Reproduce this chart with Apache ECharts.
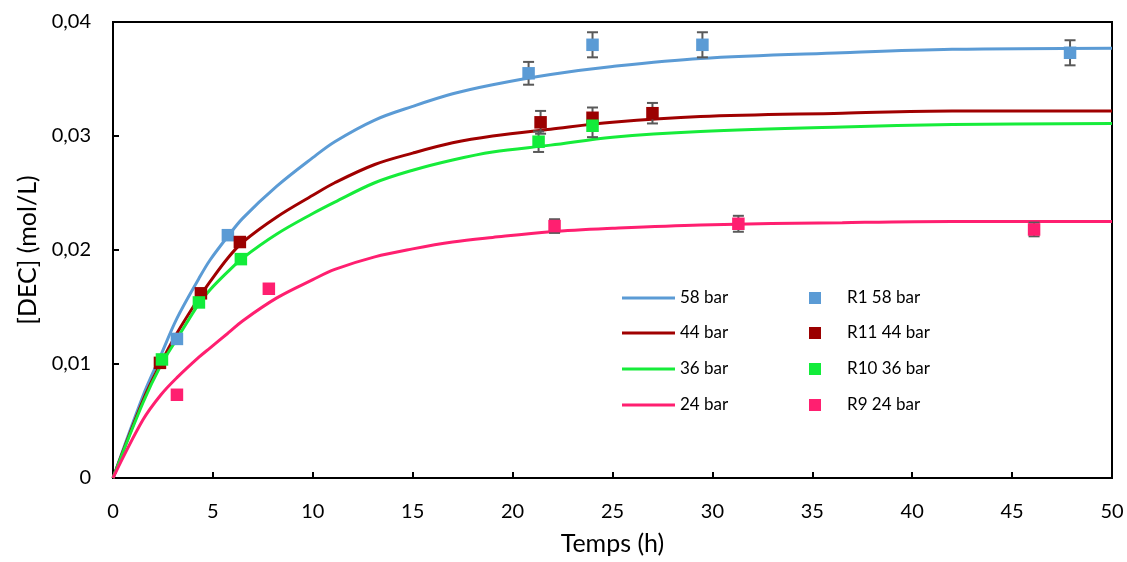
<!DOCTYPE html>
<html>
<head>
<meta charset="utf-8">
<script src="https://cdn.jsdelivr.net/npm/echarts@6/dist/echarts.min.js"></script>
<style>
html,body{margin:0;padding:0;background:#fff;}
#chart{width:1127px;height:562px;}
</style>
</head>
<body>
<div id="chart"></div>
<script>
// Model curve sample times (h)
const tModel = [0, 1.5, 2.4, 3.2, 4.3, 4.85, 5.75, 6.5, 8.2, 10, 11.1, 13.1, 15, 17, 19, 21.9, 25, 29.4, 36.5, 42, 50];
const model58 = [0, 0.0072, 0.0108, 0.0140, 0.0175, 0.0191, 0.0212, 0.0228, 0.0256, 0.0281, 0.0295, 0.0314, 0.0326, 0.0337, 0.0345, 0.0354, 0.0361, 0.0368, 0.0373, 0.0376, 0.0377];
const model44 = [0, 0.0068, 0.0101, 0.0127, 0.0158, 0.0172, 0.0193, 0.0207, 0.0229, 0.0248, 0.0259, 0.0275, 0.0285, 0.0294, 0.0300, 0.0306, 0.0312, 0.0317, 0.0320, 0.0322, 0.0322];
const model36 = [0, 0.0066, 0.0099, 0.0122, 0.0153, 0.0165, 0.0181, 0.0193, 0.0214, 0.0232, 0.0242, 0.0259, 0.0270, 0.0279, 0.0286, 0.0292, 0.0299, 0.0304, 0.0308, 0.0310, 0.0311];
const model24 = [0, 0.0051, 0.0073, 0.0088, 0.0106, 0.0114, 0.0127, 0.0138, 0.0158, 0.0174, 0.0183, 0.0194, 0.0201, 0.0207, 0.0211, 0.0216, 0.0219, 0.0222, 0.0224, 0.0225, 0.0225];

// Experimental points: time, concentration, error (±)
const r1T   = [3.2, 5.75, 20.8, 24.0, 29.5, 47.9];
const r1C   = [0.0122, 0.0213, 0.0355, 0.0380, 0.0380, 0.0373];
const r1E   = [0, 0.0003, 0.0010, 0.0011, 0.0011, 0.0011];
const r11T  = [2.35, 4.4, 6.35, 21.4, 24.0, 27.0];
const r11C  = [0.0101, 0.0162, 0.0207, 0.0312, 0.0316, 0.0320];
const r11E  = [0, 0, 0.0004, 0.0010, 0.0009, 0.0009];
const r10T  = [2.45, 4.3, 6.4, 21.3, 24.0];
const r10C  = [0.0104, 0.0154, 0.0192, 0.0295, 0.0309];
const r10E  = [0, 0, 0.0004, 0.0009, 0.0010];
const r9T   = [3.2, 7.8, 22.1, 31.3, 46.1];
const r9C   = [0.0073, 0.0166, 0.0221, 0.0223, 0.0218];
const r9E   = [0, 0, 0.0006, 0.0007, 0.0006];

const lineNames = ['58 bar', '44 bar', '36 bar', '24 bar'];
const pointNames = ['R1 58 bar', 'R11 44 bar', 'R10 36 bar', 'R9 24 bar'];
const xTicks = [0, 5, 10, 15, 20, 25, 30, 35, 40, 45, 50];
const yTicks = [0, 0.01, 0.02, 0.03, 0.04];

const lineColors = ['#5B9BD5', '#A00000', '#16EC3A', '#FF1F70'];
const pointColors = ['#5B9BD5', '#9B0000', '#12EC3A', '#FF1F70'];

function zip(a, b) { return a.map((v, i) => [v, b[i]]); }
function zip3(a, b, c) { return a.map((v, i) => [v, b[i], c[i]]); }

const models = [model58, model44, model36, model24];
const pts = [[r1T, r1C, r1E], [r11T, r11C, r11E], [r10T, r10C, r10E], [r9T, r9C, r9E]];

const font = 'Lato, "Open Sans", sans-serif';

function errRender(params, api) {
  const x = api.value(0), y = api.value(1), e = api.value(2);
  if (!e) return null;
  const top = api.coord([x, y + e]);
  const bot = api.coord([x, y - e]);
  const hw = 5.5;
  const st = { stroke: '#595959', lineWidth: 2 };
  return {
    type: 'group',
    children: [
      { type: 'line', shape: { x1: top[0], y1: top[1], x2: bot[0], y2: bot[1] }, style: st },
      { type: 'line', shape: { x1: top[0] - hw, y1: top[1], x2: top[0] + hw, y2: top[1] }, style: st },
      { type: 'line', shape: { x1: bot[0] - hw, y1: bot[1], x2: bot[0] + hw, y2: bot[1] }, style: st }
    ]
  };
}

const series = [];
models.forEach((m, i) => {
  series.push({
    name: lineNames[i], type: 'line', data: zip(tModel, m),
    smooth: 0.35, symbol: 'none', z: 2,
    lineStyle: { color: lineColors[i], width: 3 },
    itemStyle: { color: lineColors[i] }
  });
});
pts.forEach((p, i) => {
  series.push({
    name: pointNames[i] + ' err', type: 'custom', renderItem: errRender,
    data: zip3(p[0], p[1], p[2]), z: 3, silent: true,
    encode: { x: 0, y: 1 }
  });
});
pts.forEach((p, i) => {
  series.push({
    name: pointNames[i], type: 'scatter', data: zip(p[0], p[1]),
    symbol: 'rect', symbolSize: 12.5, z: 4,
    itemStyle: { color: pointColors[i], opacity: 1 }
  });
});

const rowY = [293, 328, 364, 400];
const legends = [];
lineNames.forEach((n, i) => {
  legends.push({
    data: [{ name: n, icon: 'rect' }], left: 617, top: rowY[i] - 11,
    itemWidth: 53, itemHeight: 3,
    textStyle: { fontFamily: font, fontSize: 17, color: '#000', lineHeight: 22 }
  });
});
pointNames.forEach((n, i) => {
  legends.push({
    data: [{ name: n, icon: 'rect' }], left: 804, top: rowY[i] - 11,
    itemWidth: 12, itemHeight: 12,
    textStyle: { fontFamily: font, fontSize: 17, color: '#000', lineHeight: 22, padding: [0, 0, 0, 21] }
  });
});

const chart = echarts.init(document.getElementById('chart'), null, { renderer: 'canvas' });
chart.setOption({
  animation: false,
  backgroundColor: '#fff',
  grid: { left: 113, right: 15, top: 22, bottom: 84, show: true, borderColor: '#000', borderWidth: 2 },
  legend: legends,
  xAxis: {
    type: 'value', min: 0, max: 50, interval: 5,
    name: 'Temps (h)', nameLocation: 'middle', nameGap: 53,
    nameTextStyle: { fontFamily: font, fontSize: 25, color: '#000' },
    axisLine: { show: true, lineStyle: { color: '#000', width: 2 } },
    axisTick: { show: true, inside: true, length: 6, lineStyle: { color: '#000', width: 2 } },
    axisLabel: { fontFamily: font, fontSize: 20, color: '#000', margin: 24,
      formatter: v => xTicks.includes(v) ? String(v) : '' },
    splitLine: { show: false }
  },
  yAxis: {
    type: 'value', min: 0, max: 0.04, interval: 0.01,
    name: '[DEC] (mol/L)', nameLocation: 'middle', nameGap: 73, nameRotate: 90,
    nameTextStyle: { fontFamily: font, fontSize: 25, color: '#000' },
    axisLine: { show: true, lineStyle: { color: '#000', width: 2 } },
    axisTick: { show: true, inside: true, length: 6, lineStyle: { color: '#000', width: 2 } },
    axisLabel: { fontFamily: font, fontSize: 20, color: '#000', margin: 22,
      formatter: v => {
        const t = yTicks.find(k => Math.abs(k - v) < 1e-9);
        if (t === undefined) return '';
        return t === 0 ? '0' : t.toFixed(2).replace('.', ',');
      } },
    splitLine: { show: false }
  },
  series: series
});
</script>
</body>
</html>
